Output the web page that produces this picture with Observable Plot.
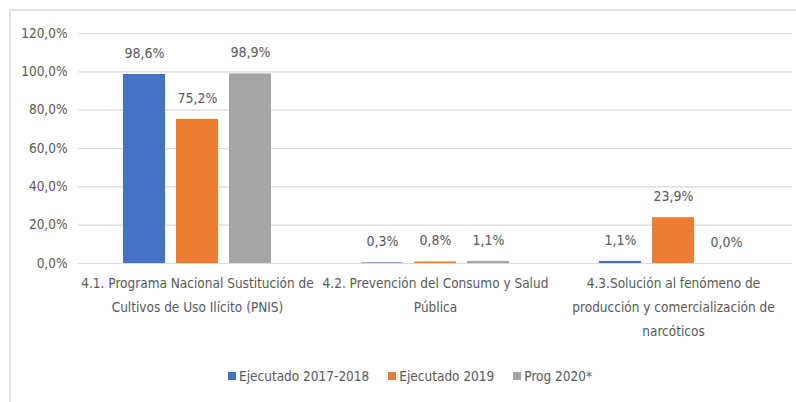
<!DOCTYPE html>
<html>
<head>
<meta charset="utf-8">
<script src="https://cdn.jsdelivr.net/npm/d3@7"></script>
<script src="https://cdn.jsdelivr.net/npm/@observablehq/plot@0.6"></script>
<style>
  html, body { margin: 0; padding: 0; background: #fff; }
  #wrap { position: relative; width: 796px; height: 402px; overflow: hidden;
    font-family: "DejaVu Sans Condensed", "DejaVu Sans", sans-serif; font-stretch: condensed; }
  #frame { position: absolute; left: 9px; top: 9px; width: 800px; height: 400px;
    border-left: 2px solid #e4e4e4; border-top: 2px solid #e4e4e4; box-sizing: border-box; }
  #legend { position: absolute; left: 228px; top: 368px; display: flex; align-items: center;
    font-size: 13.5px; color: #595959; }
  .item { display: flex; align-items: center; margin-right: 19px; }
  .sw { width: 8px; height: 8px; margin-right: 3px; }
  svg { position: absolute; left: 0; top: 0; font-stretch: condensed; }
</style>
</head>
<body>
<div id="wrap"><div id="frame"></div><div id="legend"></div></div>
<script>
const categories = [
  "4.1. Programa Nacional Sustitución de\nCultivos de Uso Ilícito (PNIS)",
  "4.2. Prevención del Consumo y Salud\nPública",
  "4.3.Solución al fenómeno de\nproducción y comercialización de\nnarcóticos"
];
const series = ["Ejecutado 2017-2018", "Ejecutado 2019", "Prog 2020*"];
const ejecutado20172018 = [0.986, 0.003, 0.011];
const ejecutado2019 = [0.752, 0.008, 0.239];
const prog2020 = [0.989, 0.011, 0.000];
const yTicks = [0, 0.2, 0.4, 0.6, 0.8, 1.0, 1.2];
const colors = ["#4472C4", "#ED7D31", "#A5A5A5"];

const valuesBySeries = [ejecutado20172018, ejecutado2019, prog2020];
const data = [];
categories.forEach((c, i) => series.forEach((s, j) => data.push({cat: c, serie: s, value: valuesBySeries[j][i]})));

const pct = v => (v * 100).toFixed(1).replace(".", ",") + "%";
const FONT = '"DejaVu Sans Condensed", "DejaVu Sans", sans-serif';

const chart = Plot.plot({
  width: 796,
  height: 402,
  marginLeft: 77,
  marginRight: 4,
  marginTop: 33,
  marginBottom: 139,
  style: {fontFamily: FONT, fontSize: "13.5px", color: "#595959", background: "transparent"},
  fx: {domain: categories, paddingInner: 0, paddingOuter: 0, label: null},
  x: {domain: series, paddingInner: 0.21, paddingOuter: 0.85, axis: null},
  y: {domain: [0, 1.2], ticks: yTicks, label: null},
  color: {domain: series, range: colors},
  marks: [
    Plot.gridY(yTicks, {stroke: "#d9d9d9", strokeOpacity: 1, strokeWidth: 1.2}),
    Plot.axisY(yTicks, {tickSize: 0, tickPadding: 11, tickFormat: pct, label: null, fontSize: 13.5}),
    Plot.axisFx({anchor: "bottom", tickSize: 0, tickPadding: 8, label: null, lineHeight: 1.75, fontSize: 13.5}),
    Plot.barY(data, {fx: "cat", x: "serie", y: "value", fill: "serie"}),
    Plot.text(data, {fx: "cat", x: "serie", y: "value", text: d => pct(d.value), dy: -21, fill: "#595959", fontSize: 14})
  ]
});
document.getElementById("wrap").appendChild(chart);

const legend = document.getElementById("legend");
series.forEach((s, i) => {
  const it = document.createElement("div");
  it.className = "item";
  const sw = document.createElement("div");
  sw.className = "sw";
  sw.style.background = colors[i];
  const t = document.createElement("span");
  t.textContent = s;
  it.appendChild(sw); it.appendChild(t);
  legend.appendChild(it);
});
</script>
</body>
</html>
